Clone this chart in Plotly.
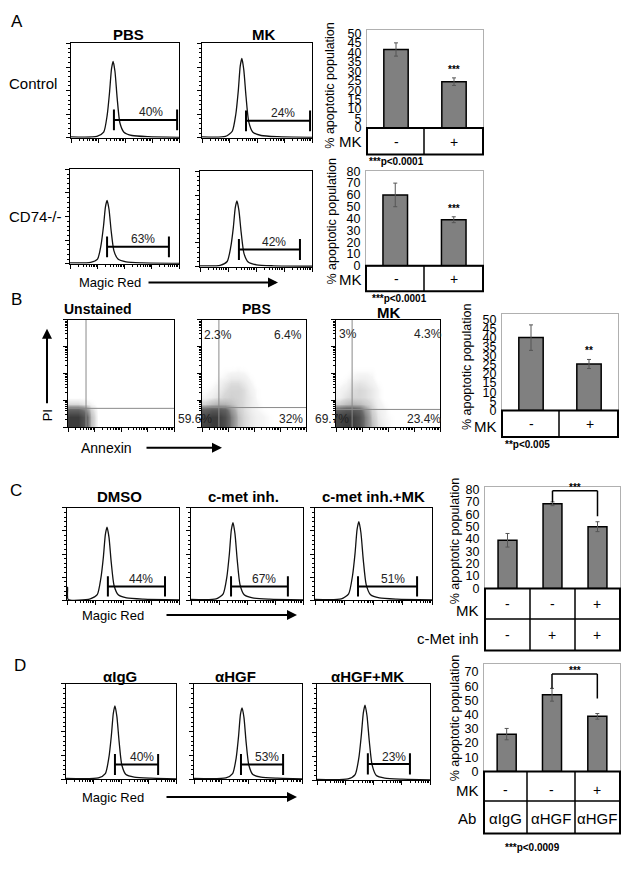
import math
import plotly.graph_objects as go

W, H = 629, 869
FONT = "Liberation Sans, Arial, sans-serif"

# ---------------- DATA ----------------
# Magic Red histograms: x = log10 fluorescence (decades, 0-4), y = % of max count
hist_ctrl_pbs_x = [0, 0.96, 1.21, 1.34, 1.43, 1.50, 1.56, 1.63, 1.71, 1.81, 1.96, 2.26, 2.86, 4.0]
hist_ctrl_pbs_y = [1, 1.5, 6, 24, 49, 73, 81, 70, 42, 16, 6, 2.5, 1.2, 0.5]
hist_ctrl_mk_x = [0, 0.85, 1.10, 1.23, 1.32, 1.39, 1.45, 1.52, 1.60, 1.70, 1.85, 2.15, 2.75, 4.0]
hist_ctrl_mk_y = [1, 1.5, 7, 25, 50, 76, 84, 72, 44, 17, 6, 2.5, 1.2, 0.5]
hist_cd74_pbs_x = [0, 0.76, 1.01, 1.14, 1.23, 1.30, 1.36, 1.43, 1.51, 1.61, 1.76, 2.06, 2.66, 4.0]
hist_cd74_pbs_y = [1, 1.5, 5, 20, 40, 60, 67, 58, 35, 14, 5, 2, 1, 0.5]
hist_cd74_mk_x = [0, 0.72, 0.97, 1.10, 1.19, 1.26, 1.32, 1.39, 1.47, 1.57, 1.72, 2.02, 2.62, 4.0]
hist_cd74_mk_y = [1, 1.5, 5.5, 21, 41, 62, 69, 59, 36, 14, 5, 2, 1, 0.5]
hist_dmso_x = [0, 0.02, 0.04, 0.83, 1.08, 1.21, 1.30, 1.37, 1.43, 1.50, 1.58, 1.68, 1.83, 2.13, 2.73, 4.0]
hist_dmso_y = [14, 14, 1, 1.5, 6, 24, 47, 71, 79, 68, 41, 16, 6, 2.5, 1.2, 0.5]
hist_cmet_x = [0, 0.9, 1.15, 1.28, 1.37, 1.44, 1.50, 1.57, 1.65, 1.75, 1.90, 2.20, 2.80, 4.0]
hist_cmet_y = [1, 1.5, 7, 25, 50, 76, 84, 72, 44, 17, 6, 2.5, 1.2, 0.5]
hist_cmet_mk_x = [0, 0.9, 1.15, 1.28, 1.37, 1.44, 1.50, 1.57, 1.65, 1.75, 1.90, 2.20, 2.80, 4.0]
hist_cmet_mk_y = [1, 1.5, 7, 26, 51, 77, 85, 73, 44, 17, 6, 2.5, 1.2, 0.5]
hist_igg_x = [0, 1.18, 1.43, 1.56, 1.65, 1.72, 1.78, 1.85, 1.93, 2.03, 2.18, 2.48, 3.08, 4.0]
hist_igg_y = [1, 1.5, 6, 23, 46, 69, 77, 66, 40, 15, 5, 2.3, 1.2, 0.5]
hist_hgf_x = [0, 1.18, 1.43, 1.56, 1.65, 1.72, 1.78, 1.85, 1.93, 2.03, 2.18, 2.48, 3.08, 4.0]
hist_hgf_y = [1, 1.5, 6, 22, 45, 68, 75, 65, 39, 15, 5, 2.3, 1.2, 0.5]
hist_hgf_mk_x = [0, 1.10, 1.35, 1.48, 1.57, 1.64, 1.70, 1.77, 1.85, 1.95, 2.10, 2.40, 3.00, 4.0]
hist_hgf_mk_y = [1, 1.5, 6, 23, 47, 70, 78, 67, 41, 16, 5, 2.3, 1.2, 0.5]

# gates: [start, end] (decades) and % labels
gate_lo = [1.59, 1.60, 1.36, 1.39, 1.46, 1.43, 1.47, 1.78, 1.74, 1.80]
gate_hi = [3.93, 3.93, 3.63, 3.57, 3.50, 3.46, 3.49, 3.35, 3.30, 3.29]
gate_pct = ["40%", "24%", "63%", "42%", "44%", "67%", "51%", "40%", "53%", "23%"]

# Annexin / PI dot-plot densities (bins of 0.25 decade; rows = PI, cols = Annexin)
dens_x = [0.125, 0.375, 0.625, 0.875, 1.125, 1.375, 1.625, 1.875, 2.125, 2.375, 2.625, 2.875]
dens_y = [0.125, 0.375, 0.625, 0.875, 1.125, 1.375, 1.625, 1.875, 2.125, 2.375]
dens_unstained = [
    [10, 10, 7, 1.5, 0, 0, 0, 0, 0, 0, 0, 0],
    [10, 10, 7, 1.5, 0, 0, 0, 0, 0, 0, 0, 0],
    [6, 6, 4, 1, 0, 0, 0, 0, 0, 0, 0, 0],
    [0.8, 0.8, 0.5, 0.2, 0, 0, 0, 0, 0, 0, 0, 0],
    [0, 0, 0, 0, 0, 0, 0, 0, 0, 0, 0, 0],
    [0, 0, 0, 0, 0, 0, 0, 0, 0, 0, 0, 0],
    [0, 0, 0, 0, 0, 0, 0, 0, 0, 0, 0, 0],
    [0, 0, 0, 0, 0, 0, 0, 0, 0, 0, 0, 0],
    [0, 0, 0, 0, 0, 0, 0, 0, 0, 0, 0, 0],
    [0, 0, 0, 0, 0, 0, 0, 0, 0, 0, 0, 0],
]
dens_pbs = [
    [9, 10, 10, 8, 4, 1.5, 0.8, 0.5, 0.3, 0.2, 0.1, 0],
    [9, 10, 10, 8, 4, 1.5, 0.8, 0.5, 0.3, 0.2, 0.1, 0],
    [6, 7, 7, 6, 3, 1.2, 0.7, 0.4, 0.2, 0.1, 0, 0],
    [1, 1.5, 1.8, 1.8, 1.5, 1.0, 0.7, 0.4, 0.2, 0, 0, 0],
    [0.2, 0.4, 0.6, 0.9, 1.0, 0.9, 0.7, 0.4, 0.1, 0, 0, 0],
    [0.1, 0.2, 0.4, 0.7, 0.9, 0.9, 0.7, 0.3, 0.1, 0, 0, 0],
    [0, 0.1, 0.2, 0.5, 0.7, 0.7, 0.5, 0.2, 0, 0, 0, 0],
    [0, 0, 0.1, 0.2, 0.4, 0.4, 0.3, 0.1, 0, 0, 0, 0],
    [0, 0, 0, 0.1, 0.1, 0.15, 0.1, 0, 0, 0, 0, 0],
    [0, 0, 0, 0, 0, 0, 0, 0, 0, 0, 0, 0],
]
dens_mk = [
    [9, 10, 10, 8, 4, 1.5, 0.6, 0.3, 0.1, 0, 0, 0],
    [9, 10, 10, 8, 4, 1.3, 0.5, 0.2, 0.1, 0, 0, 0],
    [6, 7, 7, 6, 3, 1.0, 0.4, 0.2, 0, 0, 0, 0],
    [1, 1.5, 1.8, 1.6, 1.2, 0.7, 0.3, 0.1, 0, 0, 0, 0],
    [0.3, 0.6, 0.8, 0.8, 0.7, 0.5, 0.2, 0, 0, 0, 0, 0],
    [0.2, 0.4, 0.7, 0.8, 0.7, 0.5, 0.2, 0, 0, 0, 0, 0],
    [0.1, 0.2, 0.5, 0.6, 0.5, 0.3, 0.1, 0, 0, 0, 0, 0],
    [0, 0.1, 0.2, 0.3, 0.3, 0.2, 0, 0, 0, 0, 0, 0],
    [0, 0, 0.1, 0.1, 0.1, 0.1, 0, 0, 0, 0, 0, 0],
    [0, 0, 0, 0, 0, 0, 0, 0, 0, 0, 0, 0],
]
quad_gate_x = [0.68, 0.65, 0.62]
quad_gate_y = [0.70, 0.73, 0.66]

# bar charts: % apoptotic population
barA1_vals = [41.5, 24.5]
barA1_err = [3.5, 2.0]
barA2_vals = [60, 39]
barA2_err = [10, 2.5]
barB_vals = [40, 25.5]
barB_err = [7, 2.5]
barC_vals = [39, 68.5, 50]
barC_err = [5.5, 1.5, 4]
barD_vals = [26.3, 54, 38.8]
barD_err = [4, 4.5, 2]

A_mk_row = ["-", "+"]
B_mk_row = ["-", "+"]
C_mk_row = ["-", "-", "+"]
C_inh_row = ["-", "+", "+"]
D_mk_row = ["-", "-", "+"]
D_ab_row = ["\u03b1IgG", "\u03b1HGF", "\u03b1HGF"]

ticksA1 = [0, 5, 10, 15, 20, 25, 30, 35, 40, 45, 50]
ticksA2 = [0, 10, 20, 30, 40, 50, 60, 70, 80]
ticksB = [0, 5, 10, 15, 20, 25, 30, 35, 40, 45, 50]
ticksC = [0, 10, 20, 30, 40, 50, 60, 70, 80]
ticksD = [0, 10, 20, 30, 40, 50, 60, 70]

# ---------------- HELPERS ----------------
def fx(p):
    return p / W


def fy(p):
    return 1 - p / H


fig = go.Figure()
annotations = []
shapes = []
axn = [0]


def new_axes(box, xcfg, ycfg):
    axn[0] += 1
    i = axn[0]
    xk = "xaxis" if i == 1 else f"xaxis{i}"
    yk = "yaxis" if i == 1 else f"yaxis{i}"
    xr = "x" if i == 1 else f"x{i}"
    yr = "y" if i == 1 else f"y{i}"
    x0, y0, x1, y1 = box
    fig.update_layout({xk: dict(xcfg, domain=[fx(x0), fx(x1)], anchor=yr),
                       yk: dict(ycfg, domain=[fy(y1), fy(y0)], anchor=xr)})
    return xr, yr


def txt(x, y, s, size=12, bold=False, anchor="center", angle=0, color="black"):
    annotations.append(dict(
        x=fx(x), y=fy(y), xref="paper", yref="paper", text=f"<b>{s}</b>" if bold else s,
        showarrow=False, xanchor=anchor, yanchor="middle", textangle=angle,
        font=dict(family=FONT, size=size, color=color)))


def arrow(x0, x1, y):
    annotations.append(dict(
        x=fx(x1), y=fy(y), xref="paper", yref="paper", ax=-(x1 - x0), ay=0,
        axref="pixel", ayref="pixel", text="", showarrow=True, arrowhead=2,
        arrowsize=1, arrowwidth=2, arrowcolor="black"))


def varrow(x, y0, y1):
    annotations.append(dict(
        x=fx(x), y=fy(y1), xref="paper", yref="paper", ax=0, ay=(y0 - y1),
        axref="pixel", ayref="pixel", text="", showarrow=True, arrowhead=2,
        arrowsize=1, arrowwidth=2, arrowcolor="black"))


minor_log = [d + math.log10(k) for d in range(4) for k in range(2, 10)]
flow_x = dict(range=[0, 4], showline=True, mirror=True, linecolor="black", linewidth=1,
              showgrid=False, zeroline=False, ticks="outside", ticklen=4, tickcolor="black",
              tickmode="array", tickvals=[0, 1, 2, 3, 4], showticklabels=False,
              minor=dict(ticks="outside", ticklen=2, tickmode="array", tickvals=minor_log,
                         tickcolor="black"))
hist_y = dict(range=[0, 100], showline=True, mirror=True, linecolor="black", linewidth=1,
              showgrid=False, zeroline=False, ticks="outside", ticklen=4, tickcolor="black",
              dtick=25, showticklabels=False,
              minor=dict(ticks="outside", ticklen=2, dtick=5, tickcolor="black"))
dot_y = dict(flow_x)

# ---------------- HISTOGRAMS ----------------
hists = [
    (hist_ctrl_pbs_x, hist_ctrl_pbs_y, (71, 37, 179, 133), 107),
    (hist_ctrl_mk_x, hist_ctrl_mk_y, (202, 37, 312, 133), 108),
    (hist_cd74_pbs_x, hist_cd74_pbs_y, (70, 165, 179, 261), 236),
    (hist_cd74_mk_x, hist_cd74_mk_y, (200, 167, 312, 264), 239),
    (hist_dmso_x, hist_dmso_y, (67, 509, 179, 603), 581),
    (hist_cmet_x, hist_cmet_y, (191, 509, 303, 603), 581),
    (hist_cmet_mk_x, hist_cmet_mk_y, (315, 509, 432, 603), 581),
    (hist_igg_x, hist_igg_y, (66, 688, 176, 785), 762),
    (hist_hgf_x, hist_hgf_y, (194, 688, 302, 785), 762),
    (hist_hgf_mk_x, hist_hgf_mk_y, (317, 688, 430, 786), 762),
]
gate_level = [19, 18, 18, 18, 15, 15, 15, 15.5, 15.5, 17]
for k, (hx, hy, box, lab_y) in enumerate(hists):
    xr, yr = new_axes(box, flow_x, hist_y)
    fig.add_trace(go.Scatter(x=hx, y=hy, mode="lines",
                             line=dict(color="#111", width=1.3, shape="spline", smoothing=0.6),
                             xaxis=xr, yaxis=yr, showlegend=False, hoverinfo="skip"))
    g = gate_level[k]
    lo, hi = gate_lo[k], gate_hi[k]
    for (a0, b0, a1, b1) in [(lo, g, hi, g), (lo, g - 11, lo, g + 11), (hi, g - 11, hi, g + 11)]:
        shapes.append(dict(type="line", xref=xr, yref=yr, x0=a0, y0=b0, x1=a1, y1=b1,
                           line=dict(color="black", width=2)))
    x0, y0, x1, y1 = box
    cx = x0 + (lo + hi) / 2 / 4 * (x1 - x0)
    txt(cx + 5, lab_y, gate_pct[k], size=12, color="#222")

# ---------------- DOT PLOTS ----------------
dots = [
    (dens_unstained, (68, 318, 174, 427)),
    (dens_pbs, (202, 318, 306, 427)),
    (dens_mk, (336, 318, 440, 427)),
]
dot_cs = [[0, "rgba(255,255,255,0)"], [0.02, "rgba(230,230,230,0.4)"], [0.08, "rgba(205,205,205,0.8)"],
          [0.2, "rgb(170,170,170)"], [0.5, "rgb(105,105,105)"], [1, "rgb(60,60,60)"]]
for k, (z, box) in enumerate(dots):
    xr, yr = new_axes(box, flow_x, dot_y)
    fig.add_trace(go.Heatmap(x=dens_x, y=dens_y, z=z, colorscale=dot_cs, zmin=0, zmax=10,
                             zsmooth="best", showscale=False, xaxis=xr, yaxis=yr, hoverinfo="skip"))
    shapes.append(dict(type="line", xref=xr, yref=yr, x0=quad_gate_x[k], x1=quad_gate_x[k], y0=0, y1=4,
                       line=dict(color="#8a8a8a", width=1)))
    shapes.append(dict(type="line", xref=xr, yref=yr, x0=0, x1=4, y0=quad_gate_y[k], y1=quad_gate_y[k],
                       line=dict(color="#8a8a8a", width=1)))

# ---------------- BAR CHARTS ----------------
def bar_chart(box, vals, err, ymax, ticks, stars=None):
    n = len(vals)
    xr, yr = new_axes(
        box,
        dict(range=[-0.5, n - 0.5], showline=True, mirror=True, linecolor="#b0b0b0", linewidth=1,
             showticklabels=False, showgrid=False, zeroline=False, ticks=""),
        dict(range=[0, ymax], tickmode="array", tickvals=ticks, showline=True, mirror=True,
             linecolor="#b0b0b0", linewidth=1, showgrid=False, zeroline=False, ticks="",
             ticklabelstandoff=2, tickfont=dict(family=FONT, size=12.5, color="black")))
    fig.add_trace(go.Bar(x=list(range(n)), y=vals, width=0.42, xaxis=xr, yaxis=yr, showlegend=False,
                         marker=dict(color="#808080", line=dict(color="black", width=1.5)),
                         error_y=dict(type="data", array=err, color="#555", thickness=1, width=2),
                         hoverinfo="skip"))
    if stars:
        for i, s in stars:
            annotations.append(dict(x=i, y=vals[i] + err[i], xref=xr, yref=yr, text=f"<b>{s}</b>",
                                    showarrow=False, yanchor="bottom", yshift=1,
                                    font=dict(family=FONT, size=10, color="black")))
    return xr, yr


def table(x0, x1, rows_y, cols_x):
    shapes.append(dict(type="rect", xref="paper", yref="paper", x0=fx(x0), x1=fx(x1),
                       y0=fy(rows_y[-1]), y1=fy(rows_y[0]), line=dict(color="black", width=2),
                       fillcolor="rgba(0,0,0,0)"))
    for ry in rows_y[1:-1]:
        shapes.append(dict(type="line", xref="paper", yref="paper", x0=fx(x0), x1=fx(x1),
                           y0=fy(ry), y1=fy(ry), line=dict(color="black", width=1.5)))
    for cx in cols_x:
        shapes.append(dict(type="line", xref="paper", yref="paper", x0=fx(cx), x1=fx(cx),
                           y0=fy(rows_y[0]), y1=fy(rows_y[-1]), line=dict(color="black", width=1.5)))


TSZ = 12.5
# A1
bar_chart((367, 23, 483, 123), barA1_vals, barA1_err, 52, ticksA1, stars=[(1, "***")])
table(367, 483, [123, 150], [424])
for i, s in enumerate(A_mk_row):
    txt([396, 454][i], 137, s, size=14)
txt(364, 137, "MK", size=15, anchor="right")
txt(367, 157, "***p<0.0001", size=10, bold=True, anchor="left")
txt(330, 80, "% apoptotic population", size=TSZ, angle=-90)

# A2
bar_chart((366, 167, 483, 263), barA2_vals, barA2_err, 80, ticksA2, stars=[(1, "***")])
table(366, 483, [263, 289], [424])
for i, s in enumerate(A_mk_row):
    txt([396, 454][i], 276, s, size=14)
txt(364, 277, "MK", size=15, anchor="right")
txt(370, 296, "***p<0.0001", size=10, bold=True, anchor="left")
txt(332, 218, "% apoptotic population", size=TSZ, angle=-90)

# B
bar_chart((502, 312, 618, 410), barB_vals, barB_err, 53, ticksB, stars=[(1, "**")])
table(502, 618, [410, 437], [559])
for i, s in enumerate(B_mk_row):
    txt([531, 590][i], 424, s, size=14)
txt(499, 426, "MK", size=15, anchor="right")
txt(503, 445, "**p<0.005", size=10, bold=True, anchor="left")
txt(467, 366, "% apoptotic population", size=TSZ, angle=-90)

# C
xrC, yrC = bar_chart((485, 488, 620, 591), barC_vals, barC_err, 82, ticksC)
table(485, 620, [591, 622, 654], [530, 575])
for i in range(3):
    cx = [507, 552, 597][i]
    txt(cx, 607, C_mk_row[i], size=14)
    txt(cx, 638, C_inh_row[i], size=14)
txt(481, 613, "MK", size=15, anchor="right")
txt(481, 642, "c-Met inh", size=15, anchor="right")
txt(455, 543, "% apoptotic population", size=TSZ, angle=-90)
brC_top, brC_right = 79, 58.5
for (a0, b0, a1, b1) in [(1, barC_vals[1] + barC_err[1], 1, brC_top), (1, brC_top, 2, brC_top),
                         (2, brC_top, 2, brC_right)]:
    shapes.append(dict(type="line", xref=xrC, yref=yrC, x0=a0, y0=b0, x1=a1, y1=b1,
                       line=dict(color="black", width=1.5)))
annotations.append(dict(x=1.5, y=brC_top, xref=xrC, yref=yrC, text="<b>***</b>", showarrow=False,
                        yanchor="bottom", yshift=-4, font=dict(family=FONT, size=10, color="black")))

# D
xrD, yrD = bar_chart((484, 668, 620, 777), barD_vals, barD_err, 75.5, ticksD)
table(484, 620, [777, 807, 840], [527, 575])
for i in range(3):
    cx = [505, 551, 597][i]
    txt(cx, 796, D_mk_row[i], size=14)
    txt(cx, 825, D_ab_row[i], size=15)
txt(481, 796, "MK", size=15, anchor="right")
txt(478, 825, "Ab", size=15, anchor="right")
txt(503, 854, "***p<0.0009", size=10, bold=True, anchor="left")
txt(455, 723, "% apoptotic population", size=TSZ, angle=-90)
brD_top, brD_right = 68.6, 51.3
for (a0, b0, a1, b1) in [(1, barD_vals[1] + barD_err[1], 1, brD_top), (1, brD_top, 2, brD_top),
                         (2, brD_top, 2, brD_right)]:
    shapes.append(dict(type="line", xref=xrD, yref=yrD, x0=a0, y0=b0, x1=a1, y1=b1,
                       line=dict(color="black", width=1.5)))
annotations.append(dict(x=1.5, y=brD_top, xref=xrD, yref=yrD, text="<b>***</b>", showarrow=False,
                        yanchor="bottom", yshift=-4, font=dict(family=FONT, size=10, color="black")))

# ---------------- LABELS ----------------
txt(17, 15, "A", size=17)
txt(16, 297, "B", size=17)
txt(16, 491, "C", size=17)
txt(20, 669, "D", size=17)

txt(128, 28, "PBS", size=15, bold=True)
txt(263, 28, "MK", size=15, bold=True)
txt(7, 78, "Control", size=15, anchor="left")
txt(7, 213, "CD74-/-", size=15, anchor="left")
txt(77, 280, "Magic Red", size=13, anchor="left")
arrow(147, 278, 280)

txt(98, 307, "Unstained", size=14, bold=True)
txt(256, 307, "PBS", size=14, bold=True)
txt(388, 310, "MK", size=15, bold=True)
varrow(47, 403, 327)
txt(47, 415, "PI", size=13, angle=-90)
txt(79, 448, "Annexin", size=14, anchor="left")
arrow(145, 222, 448)
txt(202, 333, "2.3%", size=12, anchor="left", color="#222")
txt(304, 333, "6.4%", size=12, anchor="right", color="#222")
txt(176, 419, "59.6%", size=12, anchor="left", color="#222")
txt(305, 419, "32%", size=12, anchor="right", color="#222")
txt(337, 332, "3%", size=12, anchor="left", color="#222")
txt(444, 332, "4.3%", size=12, anchor="right", color="#222")
txt(313, 419, "69.7%", size=12, anchor="left", color="#222")
txt(443, 419, "23.4%", size=12, anchor="right", color="#222")

txt(119, 498, "DMSO", size=15, bold=True)
txt(243, 498, "c-met inh.", size=15, bold=True)
txt(373, 498, "c-met inh.+MK", size=15, bold=True)
txt(80, 618, "Magic Red", size=13, anchor="left")
arrow(165, 297, 618)

txt(120, 680, "\u03b1IgG", size=15, bold=True)
txt(235, 680, "\u03b1HGF", size=15, bold=True)
txt(367, 680, "\u03b1HGF+MK", size=15, bold=True)
txt(80, 803, "Magic Red", size=13, anchor="left")
arrow(165, 297, 803)

fig.update_layout(width=W, height=H, margin=dict(l=0, r=0, t=0, b=0), paper_bgcolor="white",
                  plot_bgcolor="white", showlegend=False, annotations=annotations, shapes=shapes,
                  font=dict(family=FONT))
fig.write_html("out.html", config={"displayModeBar": False},
               post_script="document.body.style.margin='0px';document.body.style.overflow='hidden';")
